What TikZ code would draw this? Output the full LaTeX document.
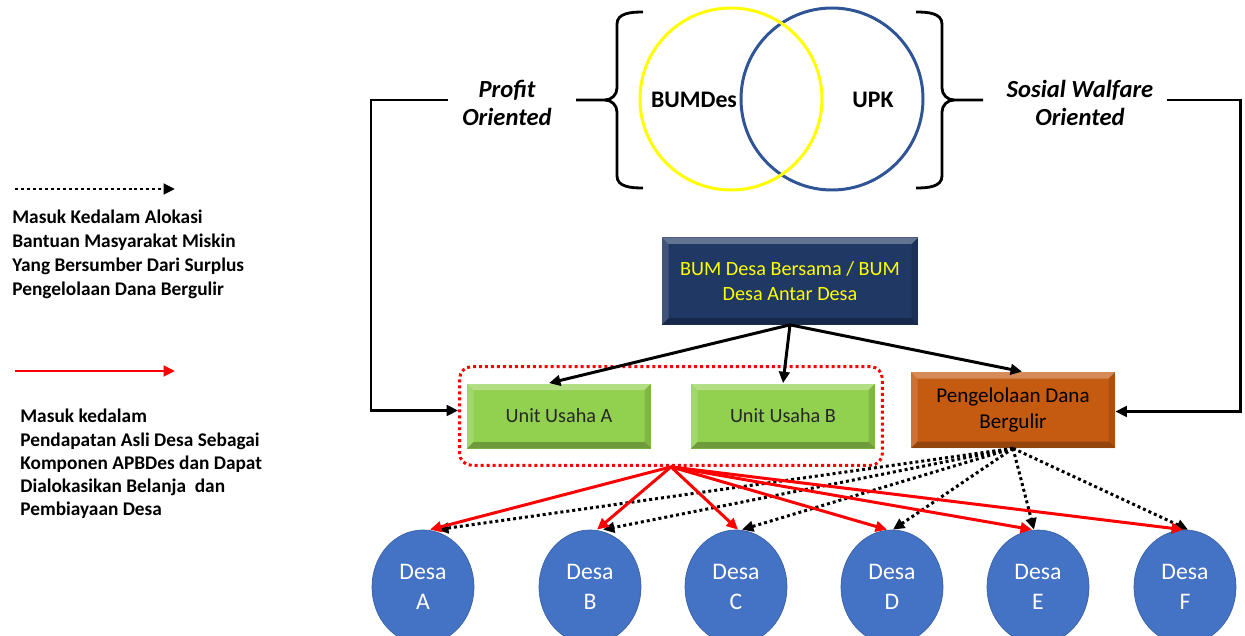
\documentclass[tikz,border=0pt]{standalone}
\usepackage{fontspec}
\setmainfont{Carlito}
\usepackage{tikz}
\usetikzlibrary{arrows.meta,shapes.geometric,positioning,fit}
\definecolor{BMNavy}{HTML}{203864}
\definecolor{BMGreen}{HTML}{92D050}
\definecolor{BMOrange}{HTML}{C55A11}
\definecolor{BMDesa}{HTML}{4472C4}
\definecolor{BMRing}{HTML}{2F5597}
\definecolor{BMYellow}{HTML}{FFFF00}
\tikzset{
  bevel/.style={path picture={
    \fill[white,opacity=0.30] (path picture bounding box.north west) -- (path picture bounding box.north east)
      -- ([xshift=-1.3mm,yshift=-1.3mm]path picture bounding box.north east) -- ([xshift=1.3mm,yshift=-1.3mm]path picture bounding box.north west) -- cycle;
    \fill[white,opacity=0.15] (path picture bounding box.north west) -- (path picture bounding box.south west)
      -- ([xshift=1.3mm,yshift=1.3mm]path picture bounding box.south west) -- ([xshift=1.3mm,yshift=-1.3mm]path picture bounding box.north west) -- cycle;
    \fill[black,opacity=0.25] (path picture bounding box.south west) -- (path picture bounding box.south east)
      -- ([xshift=-1.3mm,yshift=1.3mm]path picture bounding box.south east) -- ([xshift=1.3mm,yshift=1.3mm]path picture bounding box.south west) -- cycle;
    \fill[black,opacity=0.12] (path picture bounding box.north east) -- (path picture bounding box.south east)
      -- ([xshift=-1.3mm,yshift=1.3mm]path picture bounding box.south east) -- ([xshift=-1.3mm,yshift=-1.3mm]path picture bounding box.north east) -- cycle;
  }},
  boxbase/.style={rectangle,align=center,inner sep=0pt,bevel,font=\fontsize{11.5}{14.7}\selectfont},
  navybox/.style={boxbase,fill=BMNavy,text=BMYellow,minimum width=51.2mm,minimum height=17.4mm},
  unitbox/.style={boxbase,fill=BMGreen,text=black!85,minimum width=36.8mm,minimum height=13mm},
  danabox/.style={boxbase,fill=BMOrange,text=black,minimum width=40.8mm,minimum height=15.2mm,font=\fontsize{12}{15.3}\selectfont},
  desa/.style={ellipse,fill=BMDesa,draw=BMDesa!85!black,text=white,minimum width=20.4mm,minimum height=22.8mm,align=center,inner sep=0pt,font=\fontsize{13.5}{17}\selectfont},
  ring/.style={circle,line width=1.7pt,minimum size=36.4mm,inner sep=0pt},
  venntext/.style={font=\fontsize{13.5}{16}\selectfont\bfseries},
  orient/.style={align=center,font=\fontsize{14}{16.4}\selectfont\bfseries\itshape},
  legendtext/.style={anchor=north west,align=left,inner sep=0pt,font=\fontsize{11}{13.6}\selectfont\bfseries},
  bracket/.style={line width=1.6pt,line join=round},
  flow/.style={-{Triangle[length=6.5pt,width=6pt]},line width=1.7pt},
  redflow/.style={flow,red},
  dotflow/.style={flow,dash pattern=on 1.7pt off 1.7pt},
  groupbox/.style={draw=red,line width=1.7pt,dash pattern=on 1.7pt off 1.7pt,rounded corners=2.4mm,inner xsep=1.4mm,inner ysep=3.3mm},
}
\begin{document}
\begin{tikzpicture}[x=0.2mm,y=-0.2mm]
\useasboundingbox (0,0) rectangle (1245,636);

% venn with braces
\node[ring,draw=BMRing] (upkring) at (832,99) {};
\node[ring,draw=BMYellow] (bumring) at (731,99) {};
\node[venntext] (bumdes) at (694,100) {BUMDes};
\node[venntext] (upk) at (873,100) {UPK};
\draw[bracket] (643,12) to[out=180,in=90] (617,24) -- (617,88) to[out=-90,in=0] (605,100) -- (576,100);
\draw[bracket] (643,188) to[out=180,in=-90] (617,176) -- (617,112) to[out=90,in=0] (605,100);
\draw[bracket] (916,12) to[out=0,in=90] (942,24) -- (942,88) to[out=-90,in=180] (954,100) -- (983,100);
\draw[bracket] (916,188) to[out=0,in=-90] (942,176) -- (942,112) to[out=90,in=180] (954,100);
\node[orient] (profit) at (507,103) {Profit\\Oriented};
\node[orient] (sosial) at (1080,103) {Sosial Walfare\\Oriented};

% boxes
\node[navybox] (bum) at (790,281) {BUM Desa Bersama / BUM\\Desa Antar Desa};
\node[unitbox] (unita) at (559,416) {Unit Usaha A};
\node[unitbox] (unitb) at (783,416) {Unit Usaha B};
\node[danabox] (dana) at (1013,410) {Pengelolaan Dana\\Bergulir};
\node[groupbox,fit=(unita)(unitb)] (usaha) {};

% desa
\node[desa] (desaa) at (423,587) {Desa\\A};
\node[desa] (desab) at (590,587) {Desa\\B};
\node[desa] (desac) at (736,587) {Desa\\C};
\node[desa] (desad) at (892,587) {Desa\\D};
\node[desa] (desae) at (1038,587) {Desa\\E};
\node[desa] (desaf) at (1185,587) {Desa\\F};

% side connectors
\coordinate (profitend) at (448,100);
\coordinate (lbend) at (371,100);
\coordinate (sosialend) at (1167,100);
\coordinate (rbend) at (1240,100);
\draw[flow] (profitend) -- (lbend) |- ([yshift=1.1mm]usaha.west);
\draw[flow] (sosialend) -- (rbend) |- ([yshift=-0.3mm]dana.east);

% from bum
\draw[flow] (bum.south) -- ([xshift=-2mm]unita.north);
\draw[flow] (bum.south) -- (unitb.north);
\draw[flow] (bum.south) -- ([xshift=1.8mm]dana.north);

% to desa
\foreach \d/\bs in {desaa/2.8,desab/2.6,desac/1.2,desad/0.2,desae/-0.8,desaf/0.6}
  \draw[dotflow] (dana.south) -- ([xshift=\bs mm]\d.north);
\foreach \d/\rs in {desaa/1.4,desab/1.4,desac/0.4,desad/-1,desae/-1.2,desaf/-0.4}
  \draw[redflow] (usaha.south) -- ([xshift=\rs mm]\d.north);

% legend
\coordinate (dotfrom) at (15,189);
\coordinate (dotto) at (175,189);
\coordinate (redfrom) at (15,371);
\coordinate (redto) at (175,371);
\draw[dotflow] (dotfrom) -- (dotto);
\draw[redflow] (redfrom) -- (redto);
\node[legendtext] (dotnote) at (12,210) {Masuk Kedalam Alokasi\\Bantuan Masyarakat Miskin\\Yang Bersumber Dari Surplus\\Pengelolaan Dana Bergulir};
\node[legendtext,font=\fontsize{11}{13.2}\selectfont\bfseries] (rednote) at (20,409) {Masuk kedalam\\Pendapatan Asli Desa Sebagai\\Komponen APBDes dan Dapat\\Dialokasikan Belanja~ dan\\Pembiayaan Desa};
\end{tikzpicture}
\end{document}
